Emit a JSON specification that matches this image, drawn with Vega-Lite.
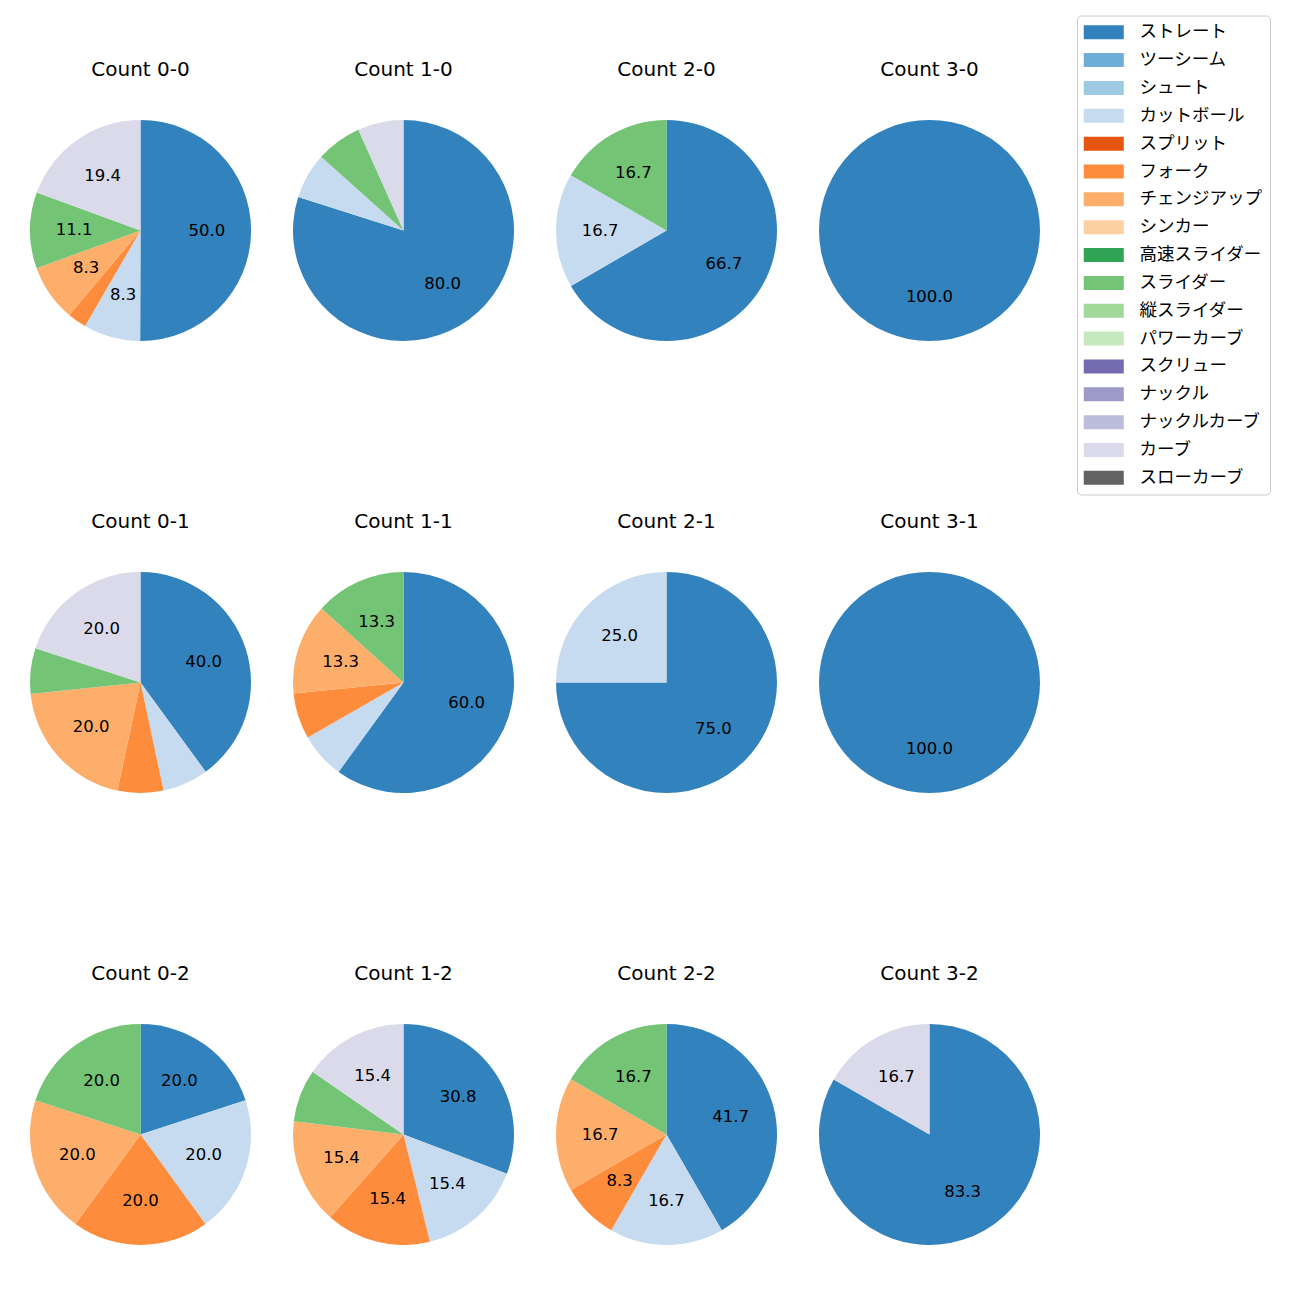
{
  "$schema": "https://vega.github.io/schema/vega-lite/v6.json",
  "padding": {"left": 30, "top": 15, "right": 0, "bottom": 0},
  "autosize": {"type": "pad"},
  "config": {
    "font": "DejaVu Sans",
    "view": {"stroke": null},
    "header": {"labelFont": "DejaVu Sans", "labelFontSize": 20, "labelColor": "#000000", "labelPadding": 40},
    "legend": {
      "orient": "none", "legendX": 1047, "legendY": -104.5,
      "labelFont": "Noto Sans CJK JP", "labelFontSize": 17.5, "labelColor": "#000000",
      "symbolType": "M-1.43,-1H4.29V1H-1.43Z", "symbolSize": 196, "symbolStrokeWidth": 0,
      "rowPadding": 8.85, "labelOffset": 37, "padding": 8,
      "strokeColor": "#cccccc", "cornerRadius": 4, "fillColor": "#ffffff"
    }
  },
  "data": {"values": [
    {"count": "Count 0-0", "pitch": "ストレート", "ord": 0, "pct": 50.0},
    {"count": "Count 0-0", "pitch": "カットボール", "ord": 3, "pct": 8.3},
    {"count": "Count 0-0", "pitch": "フォーク", "ord": 5, "pct": 2.8},
    {"count": "Count 0-0", "pitch": "チェンジアップ", "ord": 6, "pct": 8.3},
    {"count": "Count 0-0", "pitch": "スライダー", "ord": 9, "pct": 11.1},
    {"count": "Count 0-0", "pitch": "カーブ", "ord": 15, "pct": 19.4},
    {"count": "Count 1-0", "pitch": "ストレート", "ord": 0, "pct": 80.0},
    {"count": "Count 1-0", "pitch": "カットボール", "ord": 3, "pct": 6.7},
    {"count": "Count 1-0", "pitch": "スライダー", "ord": 9, "pct": 6.7},
    {"count": "Count 1-0", "pitch": "カーブ", "ord": 15, "pct": 6.7},
    {"count": "Count 2-0", "pitch": "ストレート", "ord": 0, "pct": 66.7},
    {"count": "Count 2-0", "pitch": "カットボール", "ord": 3, "pct": 16.7},
    {"count": "Count 2-0", "pitch": "スライダー", "ord": 9, "pct": 16.7},
    {"count": "Count 3-0", "pitch": "ストレート", "ord": 0, "pct": 100.0},
    {"count": "Count 0-1", "pitch": "ストレート", "ord": 0, "pct": 40.0},
    {"count": "Count 0-1", "pitch": "カットボール", "ord": 3, "pct": 6.7},
    {"count": "Count 0-1", "pitch": "フォーク", "ord": 5, "pct": 6.7},
    {"count": "Count 0-1", "pitch": "チェンジアップ", "ord": 6, "pct": 20.0},
    {"count": "Count 0-1", "pitch": "スライダー", "ord": 9, "pct": 6.7},
    {"count": "Count 0-1", "pitch": "カーブ", "ord": 15, "pct": 20.0},
    {"count": "Count 1-1", "pitch": "ストレート", "ord": 0, "pct": 60.0},
    {"count": "Count 1-1", "pitch": "カットボール", "ord": 3, "pct": 6.7},
    {"count": "Count 1-1", "pitch": "フォーク", "ord": 5, "pct": 6.7},
    {"count": "Count 1-1", "pitch": "チェンジアップ", "ord": 6, "pct": 13.3},
    {"count": "Count 1-1", "pitch": "スライダー", "ord": 9, "pct": 13.3},
    {"count": "Count 2-1", "pitch": "ストレート", "ord": 0, "pct": 75.0},
    {"count": "Count 2-1", "pitch": "カットボール", "ord": 3, "pct": 25.0},
    {"count": "Count 3-1", "pitch": "ストレート", "ord": 0, "pct": 100.0},
    {"count": "Count 0-2", "pitch": "ストレート", "ord": 0, "pct": 20.0},
    {"count": "Count 0-2", "pitch": "カットボール", "ord": 3, "pct": 20.0},
    {"count": "Count 0-2", "pitch": "フォーク", "ord": 5, "pct": 20.0},
    {"count": "Count 0-2", "pitch": "チェンジアップ", "ord": 6, "pct": 20.0},
    {"count": "Count 0-2", "pitch": "スライダー", "ord": 9, "pct": 20.0},
    {"count": "Count 1-2", "pitch": "ストレート", "ord": 0, "pct": 30.8},
    {"count": "Count 1-2", "pitch": "カットボール", "ord": 3, "pct": 15.4},
    {"count": "Count 1-2", "pitch": "フォーク", "ord": 5, "pct": 15.4},
    {"count": "Count 1-2", "pitch": "チェンジアップ", "ord": 6, "pct": 15.4},
    {"count": "Count 1-2", "pitch": "スライダー", "ord": 9, "pct": 7.7},
    {"count": "Count 1-2", "pitch": "カーブ", "ord": 15, "pct": 15.4},
    {"count": "Count 2-2", "pitch": "ストレート", "ord": 0, "pct": 41.7},
    {"count": "Count 2-2", "pitch": "カットボール", "ord": 3, "pct": 16.7},
    {"count": "Count 2-2", "pitch": "フォーク", "ord": 5, "pct": 8.3},
    {"count": "Count 2-2", "pitch": "チェンジアップ", "ord": 6, "pct": 16.7},
    {"count": "Count 2-2", "pitch": "スライダー", "ord": 9, "pct": 16.7},
    {"count": "Count 3-2", "pitch": "ストレート", "ord": 0, "pct": 83.3},
    {"count": "Count 3-2", "pitch": "カーブ", "ord": 15, "pct": 16.7}
  ]},
  "facet": {
    "field": "count", "type": "nominal", "title": null,
    "sort": ["Count 0-0", "Count 1-0", "Count 2-0", "Count 3-0", "Count 0-1", "Count 1-1", "Count 2-1", "Count 3-1", "Count 0-2", "Count 1-2", "Count 2-2", "Count 3-2"]
  },
  "columns": 4,
  "spacing": {"row": 171, "column": 42},
  "resolve": {"scale": {"theta": "independent"}},
  "spec": {
    "width": 221,
    "height": 221,
    "layer": [
      {
        "mark": {"type": "arc", "outerRadius": 110.5},
        "encoding": {
          "theta": {"field": "pct", "type": "quantitative", "stack": true},
          "order": {"field": "ord", "type": "quantitative"},
          "color": {
            "field": "pitch", "type": "nominal", "title": null,
            "scale": {
              "domain": ["ストレート", "ツーシーム", "シュート", "カットボール", "スプリット", "フォーク", "チェンジアップ", "シンカー", "高速スライダー", "スライダー", "縦スライダー", "パワーカーブ", "スクリュー", "ナックル", "ナックルカーブ", "カーブ", "スローカーブ"],
              "range": ["#3182bd", "#6baed6", "#9ecae1", "#c6dbef", "#e6550d", "#fd8d3c", "#fdae6b", "#fdd0a2", "#31a354", "#74c476", "#a1d99b", "#c7e9c0", "#756bb1", "#9e9ac8", "#bcbddc", "#dadaeb", "#636363"]
            }
          }
        }
      },
      {
        "mark": {"type": "text", "radius": 66.3, "fontSize": 16.5, "font": "DejaVu Sans", "color": "#000000"},
        "encoding": {
          "theta": {"field": "pct", "type": "quantitative", "stack": true},
          "order": {"field": "ord", "type": "quantitative"},
          "text": {"field": "pct", "type": "quantitative", "format": ".1f"},
          "opacity": {"condition": {"test": "datum.pct < 8", "value": 0}, "value": 1}
        }
      }
    ]
  }
}
